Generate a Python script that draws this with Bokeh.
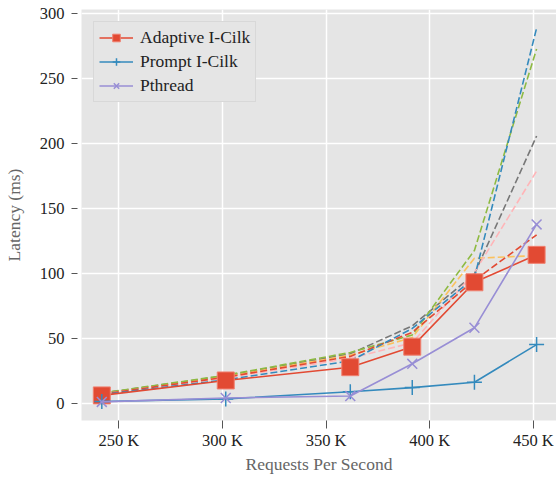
from bokeh.plotting import figure
from bokeh.models import Range1d, FixedTicker, Legend
from bokeh.embed import file_html
from bokeh.resources import INLINE

# Requests per second (in thousands)
rps_k = [241.8, 301.6, 361.7, 391.6, 421.6, 451.6]

adaptive = [6.5, 18.0, 28.2, 44.0, 93.5, 114.6]
prompt = [1.8, 3.8, 9.3, 12.5, 16.6, 45.6]
pthread = [1.5, 4.5, 6.0, 30.8, 58.5, 138.0]

# unlabelled dashed series
dash_gray = [8.2, 21.5, 38.5, 60.0, 100.0, 206.0]
dash_yellow = [7.8, 21.0, 37.5, 51.0, 112.0, 114.0]
dash_green = [8.3, 22.0, 39.5, 53.0, 118.0, 273.0]
dash_pink = [7.6, 20.0, 35.0, 47.0, 101.0, 179.0]
dash_red = [7.5, 20.5, 36.5, 55.0, 95.0, 130.0]
dash_blue = [7.0, 18.5, 33.0, 58.0, 97.0, 289.0]

x_ticks = [250, 300, 350, 400, 450]
x_tick_labels = ["250 K", "300 K", "350 K", "400 K", "450 K"]
y_ticks = [0, 50, 100, 150, 200, 250, 300]

FONT = "Liberation Serif"
RED, BLUE, PURPLE = "#E24A33", "#348ABD", "#988ED5"
GRAY, YELLOW, GREEN, PINK = "#777777", "#FBC15E", "#8EBA42", "#FFB5B8"

p = figure(width=556, height=478, output_backend="svg", toolbar_location=None,
           x_range=Range1d(232.0, 461.2), y_range=Range1d(-12.8, 303.3),
           min_border_left=81, min_border_right=0, min_border_top=9, min_border_bottom=58)
p.background_fill_color = "#E5E5E5"
p.border_fill_color = "white"
p.outline_line_color = None

p.xgrid.grid_line_color = "white"
p.ygrid.grid_line_color = "white"
p.xgrid.grid_line_width = 1.5
p.ygrid.grid_line_width = 1.5

p.xaxis.ticker = FixedTicker(ticks=x_ticks)
p.xaxis.major_label_overrides = {t: l for t, l in zip(x_ticks, x_tick_labels)}
p.yaxis.ticker = FixedTicker(ticks=y_ticks)

for ax in (p.xaxis, p.yaxis):
    ax.axis_line_color = None
    ax.major_tick_line_color = "#555555"
    ax.minor_tick_line_color = None
    ax.major_label_text_font = FONT
    ax.major_label_text_font_size = "16.5px"
    ax.major_label_text_color = "#222222"
    ax.axis_label_text_font = FONT
    ax.axis_label_text_font_size = "17.5px"
    ax.axis_label_text_font_style = "normal"
    ax.axis_label_text_color = "#666666"

p.xaxis.major_tick_in = 0
p.xaxis.major_tick_out = 8
p.yaxis.major_tick_in = -4
p.yaxis.major_tick_out = 10

p.xaxis.axis_label = "Requests Per Second"
p.yaxis.axis_label = "Latency (ms)"
p.xaxis.major_label_standoff = 2
p.yaxis.major_label_standoff = 7
p.yaxis.axis_label_standoff = 13
p.xaxis.axis_label_standoff = 1

for ys, c in [(dash_gray, GRAY), (dash_yellow, YELLOW), (dash_green, GREEN),
              (dash_pink, PINK), (dash_red, RED), (dash_blue, BLUE)]:
    p.line(rps_k, ys, line_color=c, line_width=1.6, line_dash="7 3")

r1 = p.line(rps_k, adaptive, line_color=RED, line_width=1.6)
r1m = p.scatter(rps_k, adaptive, marker="square", size=17, fill_color=RED,
                line_color="#F08070", line_width=1)
r2 = p.line(rps_k, prompt, line_color=BLUE, line_width=1.6)
r2m = p.scatter(rps_k, prompt, marker="cross", size=15, line_color=BLUE, line_width=1.5)
r3 = p.line(rps_k, pthread, line_color=PURPLE, line_width=1.6)
r3m = p.scatter(rps_k, pthread, marker="x", size=14, line_color=PURPLE, line_width=1.5)

legend = Legend(items=[("Adaptive I-Cilk", [r1, r1m]), ("Prompt I-Cilk", [r2, r2m]),
                       ("Pthread", [r3, r3m])],
                location="top_left", margin=12)
legend.label_text_font = FONT
legend.label_text_font_size = "17.5px"
legend.label_text_color = "#222222"
legend.glyph_width = 34
legend.glyph_height = 19
legend.spacing = 3
legend.padding = 5
legend.label_standoff = 7
legend.background_fill_color = "#E5E5E5"
legend.background_fill_alpha = 1
legend.border_line_color = "#CCCCCC"
legend.border_line_width = 1
p.add_layout(legend)

open("out.html", "w").write(file_html(p, INLINE))
